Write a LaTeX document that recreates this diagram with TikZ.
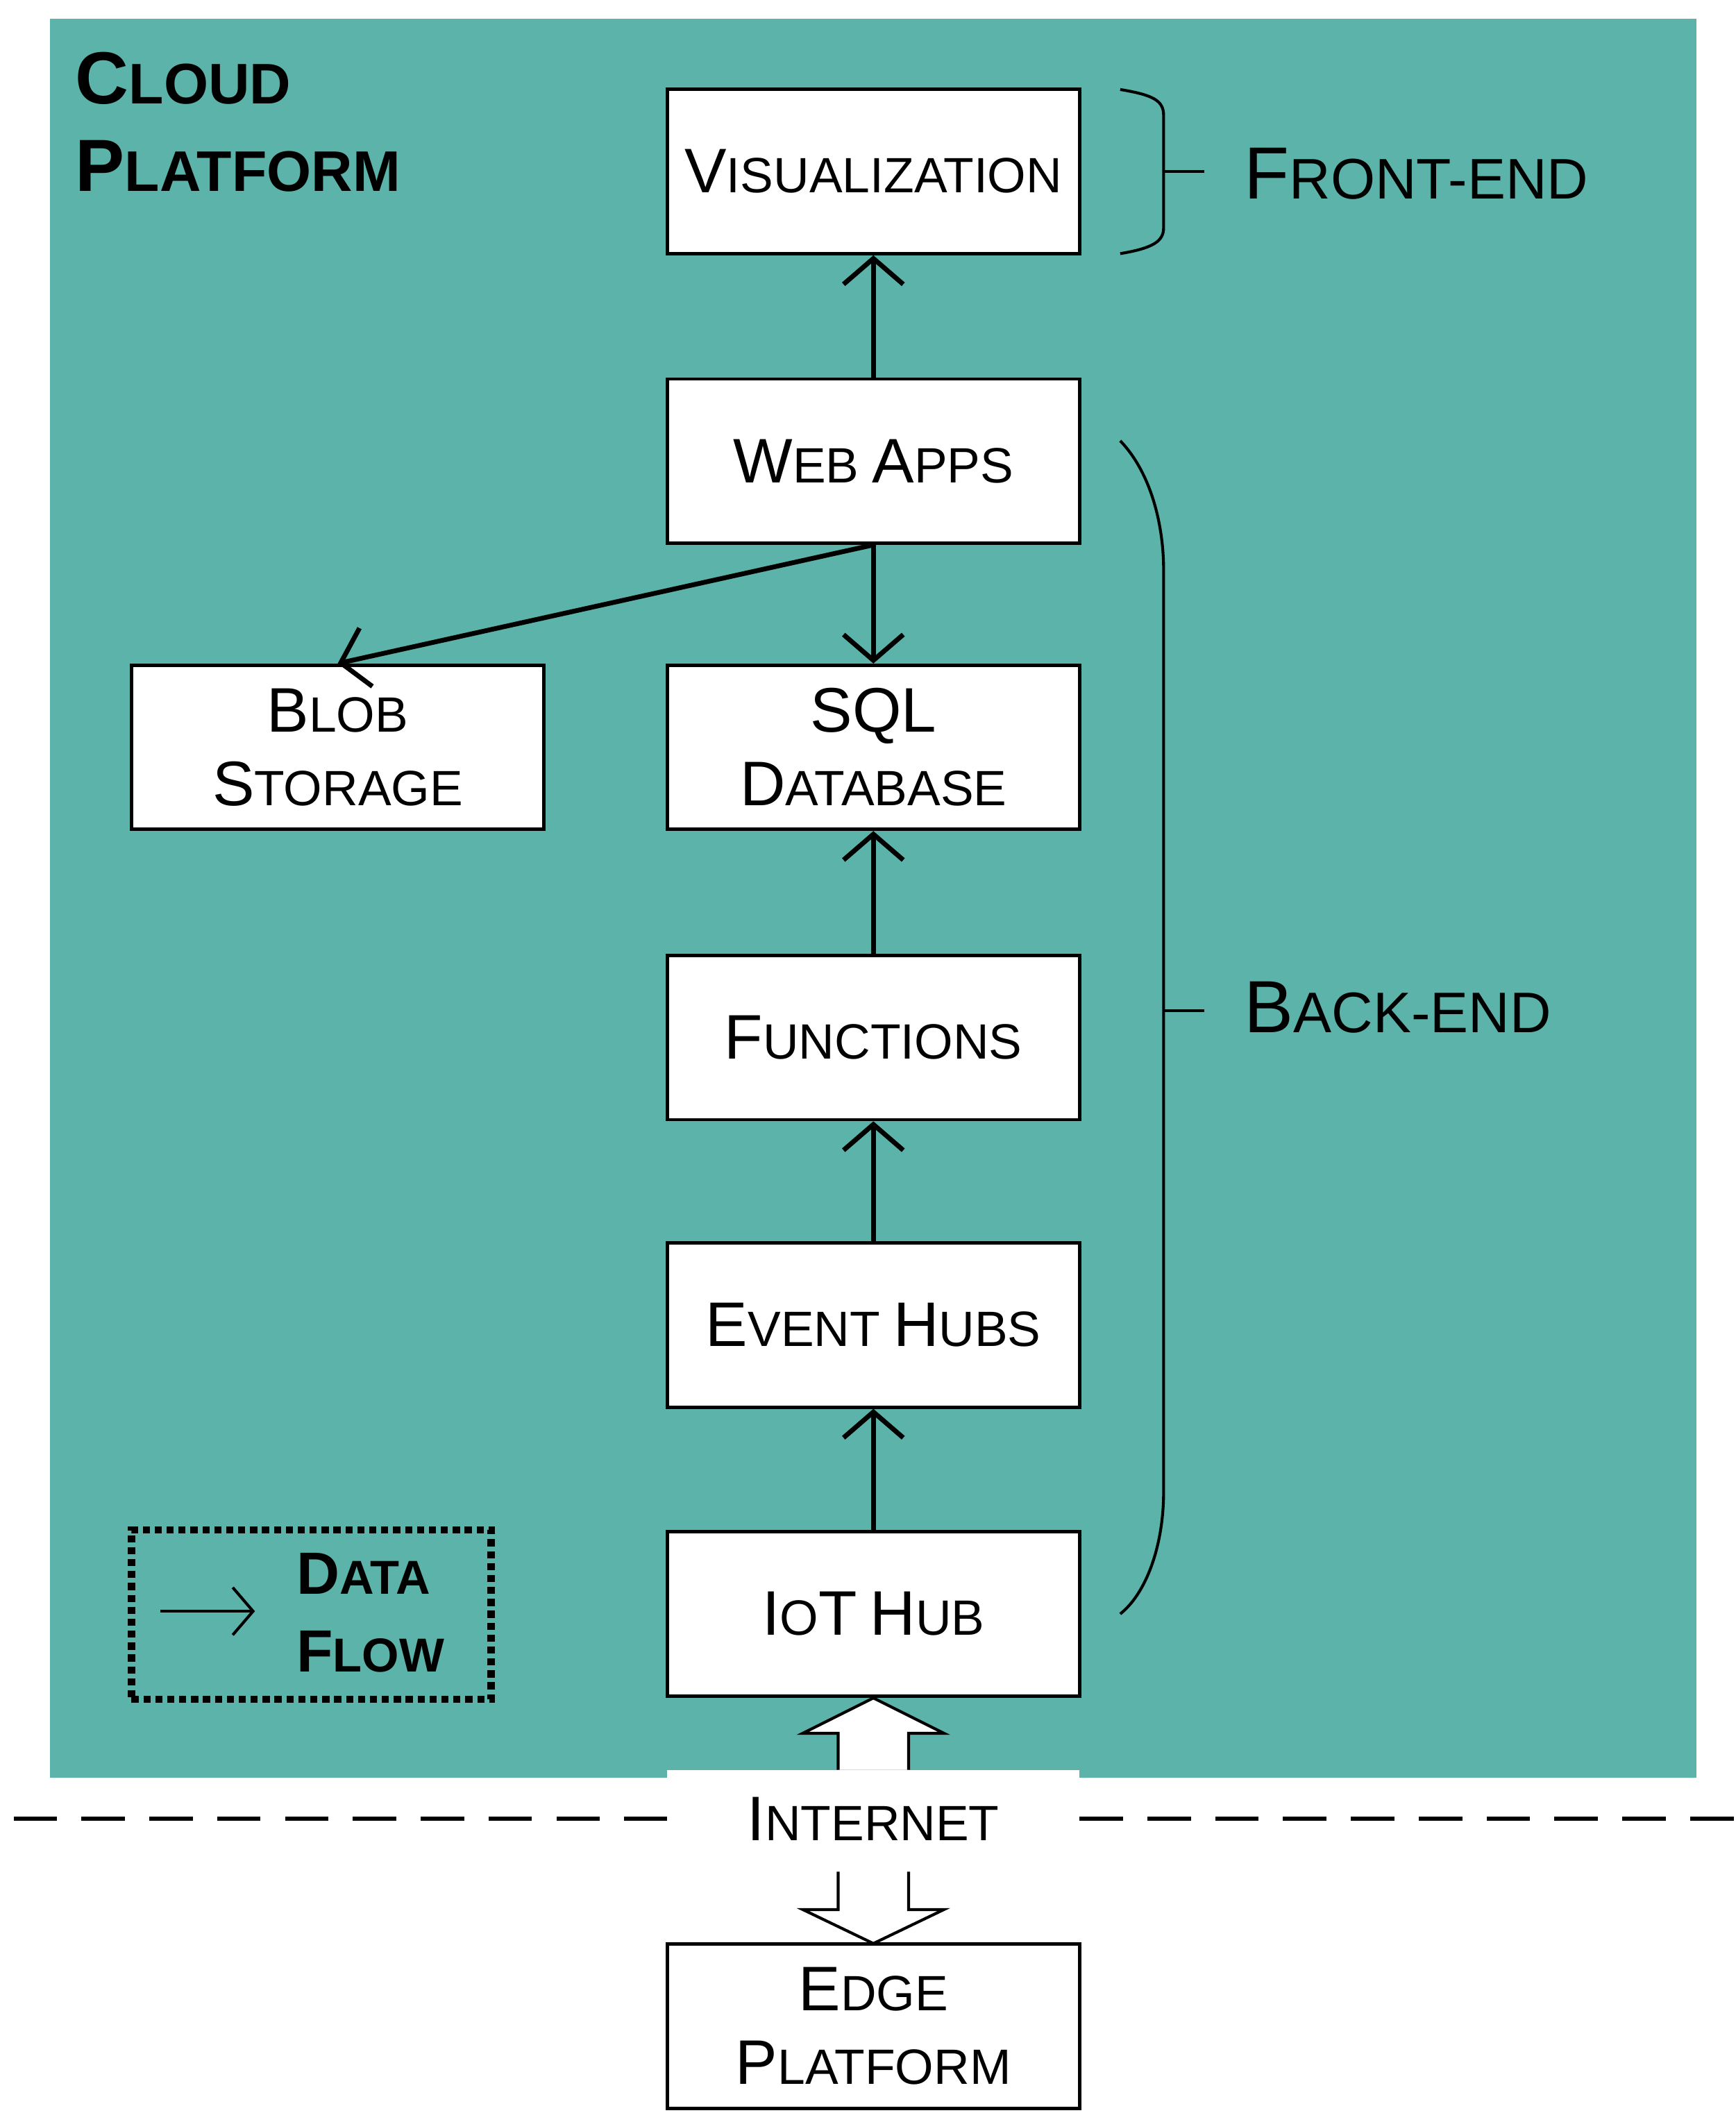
\documentclass[tikz,border=0pt]{standalone}
\usepackage{fontspec}
\setmainfont{Liberation Sans}
\usetikzlibrary{arrows.meta,decorations.pathreplacing}

\newcommand\bxt[2]{{\fontsize{13.2}{15}\selectfont #1}{\fontsize{10.4}{12}\selectfont #2}}
\newcommand\lbt[2]{{\fontsize{15.5}{18}\selectfont #1}{\fontsize{12}{15}\selectfont #2}}
\newcommand\ttl[2]{{\bfseries\fontsize{15.5}{18}\selectfont #1}{\bfseries\fontsize{12}{15}\selectfont #2}}
\newcommand\lgt[2]{{\bfseries\fontsize{12.5}{15}\selectfont #1}{\bfseries\fontsize{10}{13}\selectfont #2}}
\definecolor{cloudteal}{HTML}{5BB3AA}

\begin{document}
\begin{tikzpicture}[x=0.01cm, y=-0.01cm,
  box/.style={draw, fill=white, line width=0.7pt, minimum width=3.04cm, minimum height=1.21cm, align=center, inner sep=0pt},
  flow/.style={line width=1pt, -{Straight Barb[length=1.9mm, width=4.4mm, line width=1pt]}},
  hollow/.style={draw, fill=white, line width=0.6pt}]
	\useasboundingbox (0,0) rectangle (1280,1558);
	\fill[cloudteal] (37,14) rectangle (1251,1311);

	% title
	\node[anchor=north west, align=left, inner sep=0pt] (title) at (55,38) {\ttl{C}{LOUD}\\[2.2mm]\ttl{P}{LATFORM}};

	% boxes
	\node[box] (vis) at (644,126.5) {\bxt{V}{ISUALIZATION}};
	\node[box] (web) at (644,340) {\bxt{W}{EB} \bxt{A}{PPS}};
	\node[box] (blob) at (249,551) {\bxt{B}{LOB}\\[1.2mm]\bxt{S}{TORAGE}};
	\node[box] (sql) at (644,551) {\bxt{SQL}{}\\[1.2mm]\bxt{D}{ATABASE}};
	\node[box] (fun) at (644,765) {\bxt{F}{UNCTIONS}};
	\node[box] (evt) at (644,977) {\bxt{E}{VENT} \bxt{H}{UBS}};
	\node[box] (iot) at (644,1190) {\bxt{I}{O}\bxt{T}{} \bxt{H}{UB}};
	\node[box] (edge) at (644,1494) {\bxt{E}{DGE}\\[1.2mm]\bxt{P}{LATFORM}};

	% data flow
	\draw[flow] (web) -- (vis);
	\draw[flow] (web.south) -- (blob.north);
	\draw[flow] (web) -- (sql);
	\draw[flow] (fun) -- (sql);
	\draw[flow] (evt) -- (fun);
	\draw[flow] (iot) -- (evt);

	% braces
	\draw[line width=0.6pt] (826,66) .. controls (850,70) and (858,74) .. (858,85) -- (858,168) .. controls (858,178) and (850,183) .. (826,187);
	\draw[line width=0.6pt] (858,126.5) -- (888,126.5);
	\node[anchor=west] (front) at (905,128) {\lbt{F}{RONT-END}};
	\draw[line width=0.6pt] (826,325) .. controls (850,350) and (858,390) .. (858,420) -- (858,1100) .. controls (858,1140) and (845,1175) .. (826,1190);
	\draw[line width=0.6pt] (858,745) -- (888,745);
	\node[anchor=west] (back) at (905,743) {\lbt{B}{ACK-END}};

	% legend
	\node[draw, densely dotted, line width=1.5pt, minimum width=2.65cm, minimum height=1.25cm] (legend) at (229.5,1190.5) {};
	\coordinate (la) at (118,1188);
	\coordinate (lb) at (188,1188);
	\draw[line width=0.6pt, -{Straight Barb[length=1.5mm, width=3.5mm]}] (la) -- (lb);
	\node[anchor=west, align=left, inner sep=0pt] (ldf) at (218,1189) {\lgt{D}{ATA}\\[1.5mm]\lgt{F}{LOW}};

	% internet
	\fill[white] (492,1305) rectangle (796,1380);
	\draw[line width=1pt, dash pattern=on 3.2mm off 1.8mm] (10,1341) -- (492,1341);
	\draw[line width=1pt, dash pattern=on 3.2mm off 1.8mm] (796,1341) -- (1280,1341);
	\node (net) at (644,1341) {\bxt{I}{NTERNET}};
	\draw[hollow] (618,1305) -- (618,1278) -- (592,1278) -- (644,1252) -- (696,1278) -- (670,1278) -- (670,1305);
	\draw[hollow] (618,1380) -- (618,1408) -- (592,1408) -- (644,1433) -- (696,1408) -- (670,1408) -- (670,1380);
\end{tikzpicture}
\end{document}
